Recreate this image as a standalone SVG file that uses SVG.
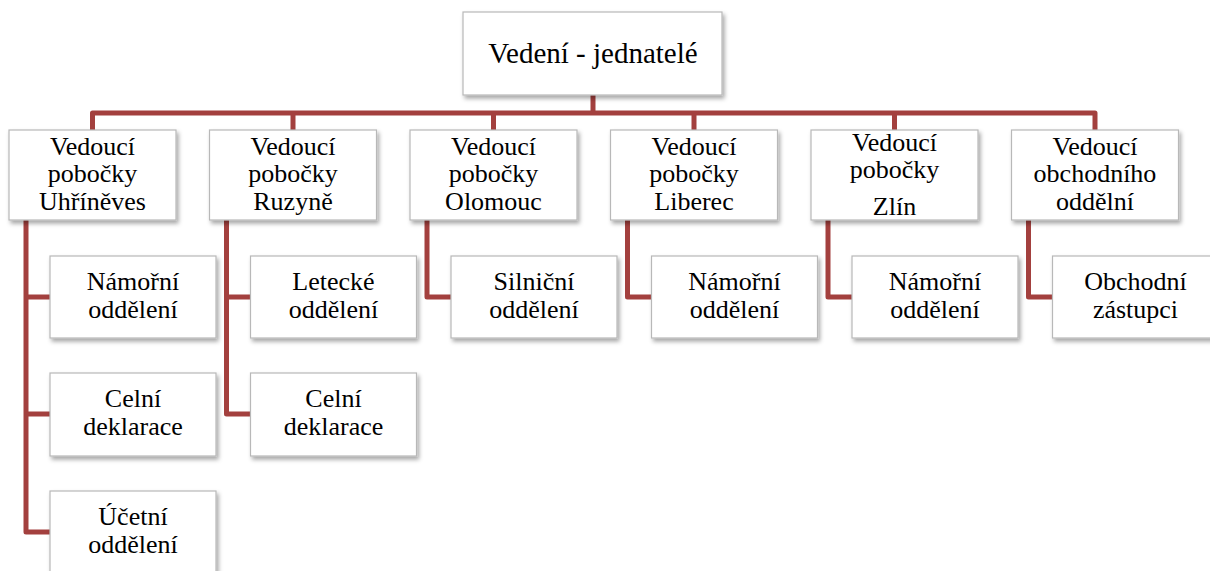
<svg xmlns="http://www.w3.org/2000/svg" width="1210" height="571" viewBox="0 0 1210 571">
  <defs>
    <filter id="shadow" x="-10%" y="-10%" width="125%" height="130%">
      <feDropShadow dx="2" dy="3" stdDeviation="2" flood-color="#000" flood-opacity="0.35"/>
    </filter>
  </defs>
  <style>
    .box { fill: #ffffff; stroke: #b8b8b8; stroke-width: 1.2; filter: url(#shadow); }
    text { font-size: 26px; fill: #000; text-anchor: middle; }
    .top { font-size: 29px; }
    .conn { fill: none; stroke: #a3403e; stroke-width: 5; stroke-linejoin: round; stroke-linecap: butt; }
  </style>
  <rect width="1210" height="571" fill="#ffffff"/>

  <!-- connectors -->
  <g id="connectors">
    <path class="conn" d="M593,95 V113"/>
    <path class="conn" d="M92.5,130 V113 H1095 V130"/>
    <path class="conn" d="M293,113 V130 M493.5,113 V130 M694,113 V130 M894.5,113 V130"/>
    <!-- branch 1 -->
    <path class="conn" d="M26,220 V532 H50 M26,297 H50 M26,414 H50"/>
    <!-- branch 2 -->
    <path class="conn" d="M226.5,220 V414 H250.5 M226.5,297 H250.5"/>
    <!-- branches 3 to 6 -->
    <path class="conn" d="M427,220 V297 H451"/>
    <path class="conn" d="M627.5,220 V297 H651.5"/>
    <path class="conn" d="M828,220 V297 H852"/>
    <path class="conn" d="M1028.5,220 V297 H1052.5"/>
  </g>

  <!-- root -->
  <g id="root">
    <rect class="box" x="463" y="12" width="259" height="83"/>
    <text class="top" x="593" y="63" font-family="Liberation Serif">Vedení - jednatelé</text>
  </g>

  <!-- level 1 -->
  <g id="uhrineves">
    <rect class="box" x="9" y="130" width="167" height="90"/>
    <text x="92.5" y="155" font-family="Liberation Serif">Vedoucí</text>
    <text x="92.5" y="182" font-family="Liberation Serif">pobočky</text>
    <text x="92.5" y="210" font-family="Liberation Serif">Uhříněves</text>
  </g>
  <g id="ruzyne">
    <rect class="box" x="209.5" y="130" width="167" height="90"/>
    <text x="293" y="155" font-family="Liberation Serif">Vedoucí</text>
    <text x="293" y="182" font-family="Liberation Serif">pobočky</text>
    <text x="293" y="210" font-family="Liberation Serif">Ruzyně</text>
  </g>
  <g id="olomouc">
    <rect class="box" x="410" y="130" width="167" height="90"/>
    <text x="493.5" y="155" font-family="Liberation Serif">Vedoucí</text>
    <text x="493.5" y="182" font-family="Liberation Serif">pobočky</text>
    <text x="493.5" y="210" font-family="Liberation Serif">Olomouc</text>
  </g>
  <g id="liberec">
    <rect class="box" x="610.5" y="130" width="167" height="90"/>
    <text x="694" y="155" font-family="Liberation Serif">Vedoucí</text>
    <text x="694" y="182" font-family="Liberation Serif">pobočky</text>
    <text x="694" y="210" font-family="Liberation Serif">Liberec</text>
  </g>
  <g id="zlin">
    <rect class="box" x="811" y="130" width="167" height="90"/>
    <text x="894.5" y="151" font-family="Liberation Serif">Vedoucí</text>
    <text x="894.5" y="178" font-family="Liberation Serif">pobočky</text>
    <text x="894.5" y="215" font-family="Liberation Serif">Zlín</text>
  </g>
  <g id="obchod">
    <rect class="box" x="1011.5" y="130" width="167" height="90"/>
    <text x="1095" y="155" font-family="Liberation Serif">Vedoucí</text>
    <text x="1095" y="182" font-family="Liberation Serif">obchodního</text>
    <text x="1095" y="210" font-family="Liberation Serif">oddělní</text>
  </g>

  <!-- level 2 -->
  <g id="u-namorni">
    <rect class="box" x="50" y="256" width="166" height="82"/>
    <text x="133" y="290" font-family="Liberation Serif">Námořní</text>
    <text x="133" y="318" font-family="Liberation Serif">oddělení</text>
  </g>
  <g id="u-celni">
    <rect class="box" x="50" y="373" width="166" height="83"/>
    <text x="133" y="407" font-family="Liberation Serif">Celní</text>
    <text x="133" y="435" font-family="Liberation Serif">deklarace</text>
  </g>
  <g id="u-ucetni">
    <rect class="box" x="50" y="491" width="166" height="83"/>
    <text x="133" y="525" font-family="Liberation Serif">Účetní</text>
    <text x="133" y="553" font-family="Liberation Serif">oddělení</text>
  </g>
  <g id="r-letecke">
    <rect class="box" x="250.5" y="256" width="166" height="82"/>
    <text x="333.5" y="290" font-family="Liberation Serif">Letecké</text>
    <text x="333.5" y="318" font-family="Liberation Serif">oddělení</text>
  </g>
  <g id="r-celni">
    <rect class="box" x="250.5" y="373" width="166" height="83"/>
    <text x="333.5" y="407" font-family="Liberation Serif">Celní</text>
    <text x="333.5" y="435" font-family="Liberation Serif">deklarace</text>
  </g>
  <g id="o-silnicni">
    <rect class="box" x="451" y="256" width="166" height="82"/>
    <text x="534" y="290" font-family="Liberation Serif">Silniční</text>
    <text x="534" y="318" font-family="Liberation Serif">oddělení</text>
  </g>
  <g id="l-namorni">
    <rect class="box" x="651.5" y="256" width="166" height="82"/>
    <text x="734.5" y="290" font-family="Liberation Serif">Námořní</text>
    <text x="734.5" y="318" font-family="Liberation Serif">oddělení</text>
  </g>
  <g id="z-namorni">
    <rect class="box" x="852" y="256" width="166" height="82"/>
    <text x="935" y="290" font-family="Liberation Serif">Námořní</text>
    <text x="935" y="318" font-family="Liberation Serif">oddělení</text>
  </g>
  <g id="ob-zastupci">
    <rect class="box" x="1052.5" y="256" width="166" height="82"/>
    <text x="1135.5" y="290" font-family="Liberation Serif">Obchodní</text>
    <text x="1135.5" y="318" font-family="Liberation Serif">zástupci</text>
  </g>
</svg>
